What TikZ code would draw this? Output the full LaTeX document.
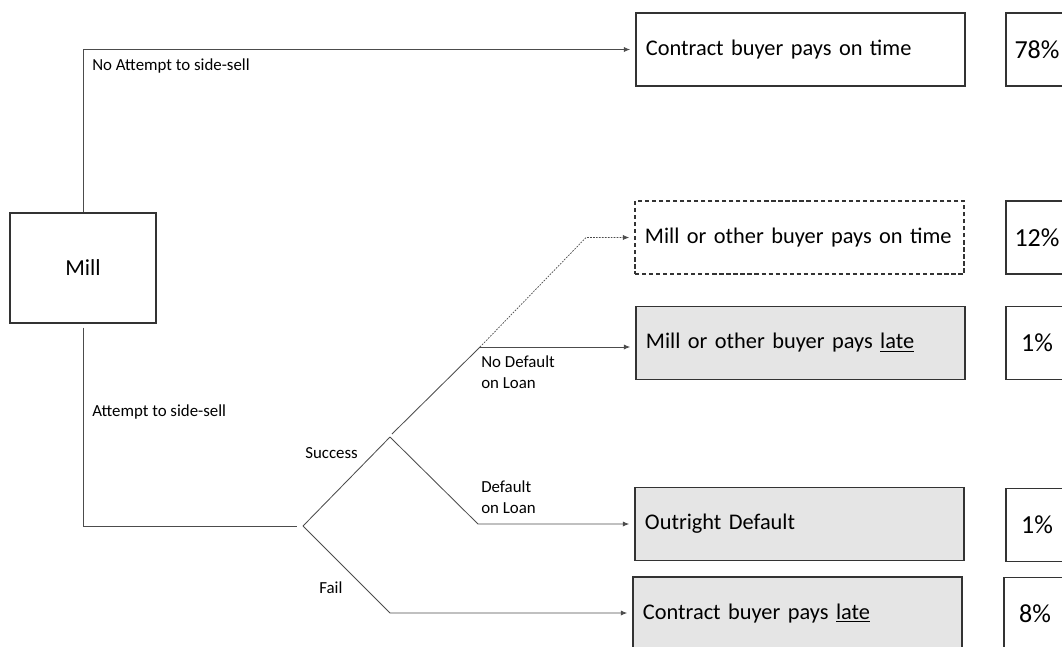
\documentclass[tikz,border=0pt]{standalone}
\usepackage{fontspec}
\setmainfont{Carlito}
\usetikzlibrary{arrows.meta}

\tikzset{
    outcome/.style={draw=black!80, line width=0.8pt, text width=7.725cm, inner xsep=0.25cm,
        minimum height=1.825cm, align=left, font=\fontsize{15.9}{18}\selectfont},
    share/.style={draw=black!80, line width=0.8pt, minimum width=1.55cm, minimum height=1.825cm,
        font=\fontsize{18.5}{20}\selectfont},
    branch/.style={draw=black!70, line width=0.6pt},
    lbl/.style={anchor=west, inner sep=0pt, align=left, font=\fontsize{12}{14.9}\selectfont},
    tip/.style={-{Latex[length=1.6mm,width=1.3mm]}, shorten >=0.13cm}
}

\begin{document}
\begin{tikzpicture}[x=0.025cm, y=-0.025cm]
        \clip (0, 0) rectangle (1062, 646);

        % start
        \node[draw=black!80, line width=0.8pt, minimum width=3.65cm, minimum height=2.75cm,
            font=\fontsize{16.3}{18}\selectfont] (mill) at (83, 268) {Mill};

        % outcomes
        \node[outcome] (ontime) at (800.5, 49.5) {Contract buyer pays on time};
        \node[outcome, fill=white, dashed, dash pattern=on 3pt off 2pt] (millontime) at (799.5, 237.5) {Mill or other buyer pays on time};
        \node[outcome, fill=black!10] (milllate) at (800.5, 343) {Mill or other buyer pays \underline{late}};
        \node[outcome, fill=black!10] (outright) at (799.5, 524) {Outright Default};
        \node[outcome, fill=black!10] (contractlate) at (797.5, 613.5) {Contract buyer pays \underline{late}};

        % shares
        \node[share] (p78) at (1037, 49.5) {78\%};
        \node[share] (p12) at (1037, 237.5) {12\%};
        \node[share] (p1a) at (1037, 343) {1\%};
        \node[share] (p1b) at (1037, 525) {1\%};
        \node[share] (p8) at (1035, 614) {8\%};

        % bends
        \coordinate (split) at (297, 526);
        \coordinate (fork) at (303, 526);
        \coordinate (succ) at (390, 437);
        \coordinate (succtwo) at (392, 434);
        \coordinate (nodef) at (480, 347);
        \coordinate (dashbend) at (586, 237.5);
        \coordinate (defbend) at (478, 524);
        \coordinate (failbend) at (390, 613);

        % no attempt
        \draw[branch, tip] (mill.north) |- (ontime.west);
        \node[lbl] (noatt) at (92, 66) {No Attempt to side-sell};

        % attempt
        \draw[branch, shorten <=0.1cm] (mill.south) |- (split);
        \node[lbl] (att) at (92, 412) {Attempt to side-sell};

        \draw[branch] (fork) -- (succ);
        \node[lbl] (success) at (305, 453) {Success};
        \draw[branch] (succtwo) -- (nodef);
        \draw[branch, tip] (nodef) -- (nodef -| milllate.west);
        \draw[draw=black!70, line width=0.5pt, dash pattern=on 1.2pt off 0.9pt, tip] (nodef) -- (dashbend) -- (millontime.west);
        \node[lbl] (nodeflbl) at (481, 372) {No Default\\on Loan};

        \draw[branch, tip] (succ) -- (defbend) -- (defbend -| outright.west);
        \node[lbl] (deflbl) at (481, 497) {Default\\on Loan};

        \draw[branch, tip] (fork) -- (failbend) -- (failbend -| contractlate.west);
        \node[lbl] (fail) at (319, 588) {Fail};
\end{tikzpicture}
\end{document}
